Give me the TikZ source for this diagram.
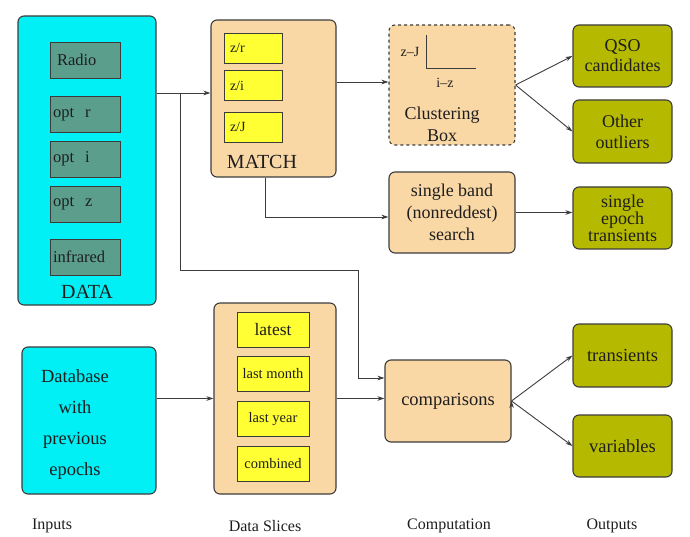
\documentclass[tikz,border=0pt]{standalone}
\usepackage{fontspec}
\setmainfont{Liberation Serif}
\usetikzlibrary{positioning,arrows.meta}
\definecolor{datacyan}{RGB}{0,240,245}
\definecolor{bandteal}{RGB}{92,158,140}
\definecolor{peach}{RGB}{250,216,166}
\definecolor{sliceyellow}{RGB}{255,255,51}
\definecolor{olive}{RGB}{181,186,0}
\definecolor{edgegray}{RGB}{60,60,60}
\definecolor{inkgray}{RGB}{30,30,30}

\begin{document}
\begin{tikzpicture}[
x=1pt, y=-1pt,
->,
>={Stealth[length=7pt,width=4.5pt]},
line width=0.9pt,
every node/.style={text=inkgray, font=\fontsize{17}{21}\selectfont},
group/.style={draw=edgegray, line width=1.1pt, rounded corners=6pt, inner sep=0pt},
datagroup/.style={group, fill=datacyan},
proc/.style={group, fill=peach, align=center},
outbox/.style={group, fill=olive, align=center, minimum width=99pt, minimum height=62pt},
bandbox/.style={draw=edgegray, line width=0.8pt, fill=bandteal, minimum width=70pt,
  minimum height=36pt, text width=64pt, align=left, inner sep=0pt,
  font=\fontsize{16.5}{18}\selectfont},
ratiobox/.style={draw=edgegray, line width=0.8pt, fill=sliceyellow, minimum width=58pt,
  minimum height=30pt, text width=46pt, align=left, inner sep=0pt,
  font=\fontsize{14}{16}\selectfont},
slicebox/.style={draw=edgegray, line width=0.8pt, fill=sliceyellow, minimum width=72pt,
  minimum height=35pt, inner sep=0pt, font=\fontsize{14.5}{16}\selectfont},
colname/.style={font=\fontsize{16}{18}\selectfont}
]
\useasboundingbox (0,0) rectangle (690,537);

% inputs
\node[datagroup, minimum width=138pt, minimum height=289pt] (data) at (87,160.5) {};
\node[bandbox] (radio) at (85,60) {\hspace*{4pt}Radio};
\node[bandbox] (optr) at (85,114.5) {opt~~r};
\node[bandbox] (opti) at (85,159) {opt~~i};
\node[bandbox] (optz) at (85,204) {opt~~z};
\node[bandbox] (ir) at (85,257) {infrared};
\node[font=\fontsize{20}{24}\selectfont] (datalbl) at (87,292) {DATA};

\node[datagroup, minimum width=134pt, minimum height=147pt] (db) at (89,420.5) {};
\node[align=center, font=\fontsize{18.5}{31}\selectfont] (dblbl) at (75,425)
  {Database\\with\\previous\\epochs};

% data slices
\node[proc, minimum width=125pt, minimum height=157pt] (match) at (273.5,98.5) {};
\node[ratiobox] (zr) at (253,48) {z/r};
\node[ratiobox] (zi) at (253,85.5) {z/i};
\node[ratiobox] (zj) at (253,127) {z/J};
\node[font=\fontsize{20}{24}\selectfont] (matchlbl) at (262,162) {MATCH};

\node[proc, minimum width=122pt, minimum height=191pt] (slices) at (275,398.5) {};
\node[slicebox, font=\fontsize{17.5}{20}\selectfont] (latest) at (273,329.5) {latest};
\node[slicebox] (month) at (273,373.5) {last month};
\node[slicebox] (year) at (273,419) {last year};
\node[slicebox] (comb) at (273,464) {combined};

% computation
\node[proc, dashed, minimum width=126pt, minimum height=120pt] (cluster) at (452,85) {};
\draw[-, line width=1pt, edgegray] (426,35) -- (426,69) -- (476,69);
\node[font=\fontsize{14}{16}\selectfont] (zjlbl) at (410,52) {z--J};
\node[font=\fontsize{14}{16}\selectfont] (izlbl) at (445,83) {i--z};
\node[align=center, font=\fontsize{18}{22}\selectfont] (clusterlbl) at (442,124) {Clustering\\Box};

\node[proc, minimum width=126pt, minimum height=81pt, font=\fontsize{18}{22}\selectfont]
  (band) at (452,212.5) {single band\\(nonreddest)\\search};
\node[proc, minimum width=126pt, minimum height=82pt, font=\fontsize{18.5}{22}\selectfont]
  (cmp) at (448,401) {comparisons};

% outputs
\node[outbox, font=\fontsize{18}{20}\selectfont] (qso) at (622.5,56) {QSO\\candidates};
\node[outbox, minimum height=63pt, font=\fontsize{18}{21}\selectfont] (other) at (622.5,131.5) {Other\\outliers};
\node[outbox, font=\fontsize{18}{17}\selectfont] (epoch) at (622.5,218) {single\\epoch\\transients};
\node[outbox, minimum height=63pt, font=\fontsize{18.5}{21}\selectfont] (trans) at (622.5,355.5) {transients};
\node[outbox, font=\fontsize{18.5}{21}\selectfont] (var) at (622.5,446) {variables};

% column names
\node[colname] (inputs) at (52,526) {Inputs};
\node[colname] (slicename) at (265,526) {Data Slices};
\node[colname] (compname) at (449,526) {Computation};
\node[colname] (outname) at (612,526) {Outputs};

% connectors
\coordinate (split) at (180,93);
\coordinate (bend) at (358,270);
\path[draw=edgegray]
(data.east |- split) edge (match.west |- split)
(split) edge[to path={|- (bend) |- (\tikztotarget)}] ([yshift=23pt]cmp.west)
([xshift=-8.5pt]match.south) edge[to path={|- (\tikztotarget)}] ([yshift=-4.5pt]band.west)
([yshift=16.5pt]match.east) edge ([yshift=3pt]cluster.west)
(cluster.east) edge (qso.west)
(cluster.east) edge (other.west)
(band.east) edge (band.east -| epoch.west)
(db.east |- slices.west) edge (slices.west)
(slices.east) edge (cmp.west |- slices.east)
(cmp.east) edge (trans.west)
(cmp.east) edge (var.west);

\end{tikzpicture}
\end{document}
